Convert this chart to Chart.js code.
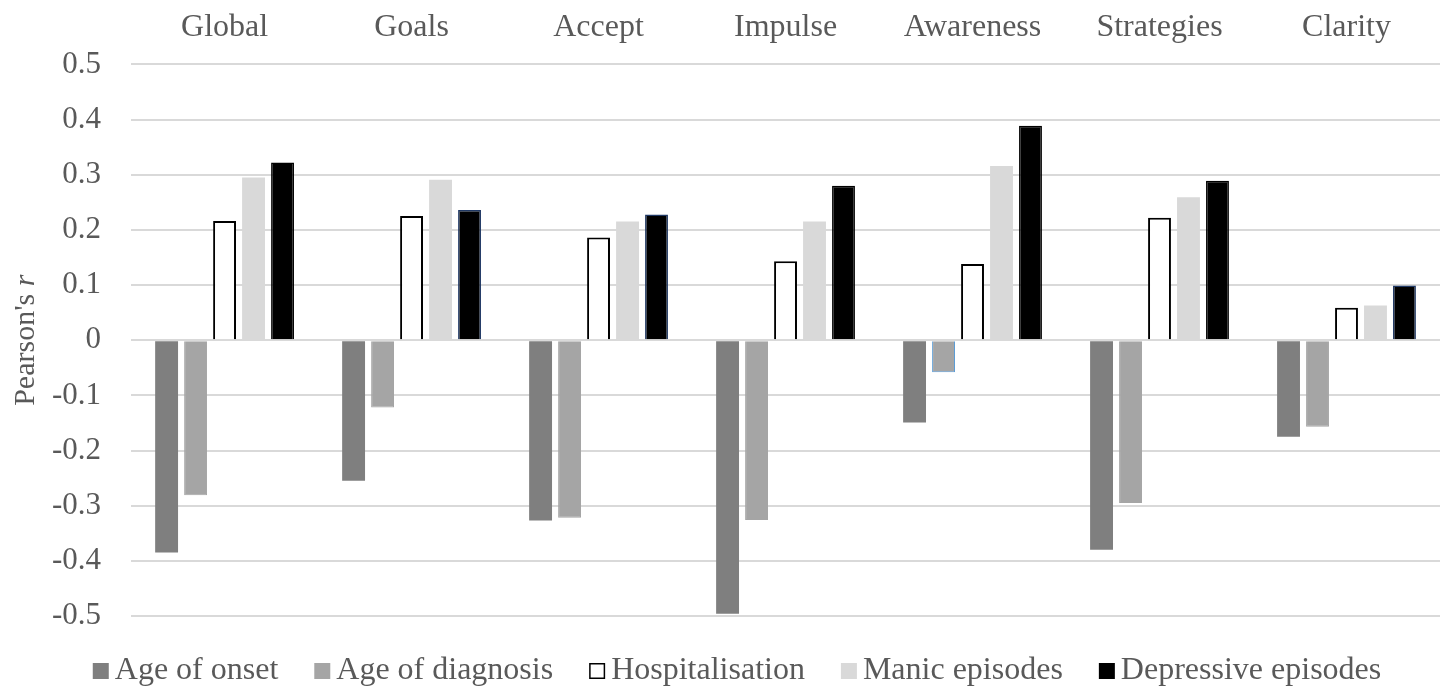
<!DOCTYPE html>
<html>
<head>
<meta charset="utf-8">
<script src="https://cdn.jsdelivr.net/npm/chart.js@4"></script>
<style>
  html, body { margin: 0; padding: 0; background: #fff; }
  #wrap { width: 1444px; height: 689px; position: relative; }
</style>
</head>
<body>
<div id="wrap"><canvas id="chart"></canvas></div>
<script>
// data
const categories = ['Global', 'Goals', 'Accept', 'Impulse', 'Awareness', 'Strategies', 'Clarity'];
const seriesNames = ['Age of onset', 'Age of diagnosis', 'Hospitalisation', 'Manic episodes', 'Depressive episodes'];
const ageOfOnset = [-0.385, -0.255, -0.327, -0.496, -0.149, -0.380, -0.175];
const ageOfDiagnosis = [-0.281, -0.122, -0.322, -0.326, -0.058, -0.295, -0.157];
const hospitalisation = [0.216, 0.225, 0.186, 0.143, 0.138, 0.222, 0.059];
const manicEpisodes = [0.295, 0.291, 0.215, 0.215, 0.316, 0.259, 0.063];
const depressiveEpisodes = [0.322, 0.236, 0.228, 0.280, 0.389, 0.289, 0.099];

const textColor = '#595959';
const fontFamily = '"Liberation Serif", "Times New Roman", serif';

// y axis title, the r is italic so draw it by hand
const axisTitle = {
    id: 'axisTitle',
    afterDraw(chart) {
        const ctx = chart.ctx;
        const cy = chart.scales.y.getPixelForValue(0);
        ctx.save();
        ctx.translate(26, cy);
        ctx.rotate(-Math.PI / 2);
        ctx.fillStyle = textColor;
        ctx.textBaseline = 'middle';
        ctx.textAlign = 'left';
        const normal = '30px ' + fontFamily;
        const italic = 'italic 30px ' + fontFamily;
        ctx.font = normal;
        const w1 = ctx.measureText("Pearson's ").width;
        ctx.font = italic;
        const w2 = ctx.measureText('r').width;
        const x = -(w1 + w2) / 2;
        ctx.font = normal;
        ctx.fillText("Pearson's ", x, 0);
        ctx.font = italic;
        ctx.fillText('r', x + w1, 0);
        ctx.restore();
    }
};

// legend drawn from the datasets, spacing is tighter than the built-in one
const bottomLegend = {
    id: 'bottomLegend',
    afterDraw(chart) {
        const ctx = chart.ctx;
        const sets = chart.data.datasets;
        const box = 16, gap = 6, itemGap = 36;
        ctx.save();
        ctx.font = '32px ' + fontFamily;
        ctx.textBaseline = 'middle';
        ctx.textAlign = 'left';
        const widths = sets.map(ds => ctx.measureText(ds.label).width);
        const total = widths.reduce((a, w) => a + box + gap + w, 0) + itemGap * (sets.length - 1);
        let x = 737 - total / 2;
        const y = 671;
        sets.forEach((ds, i) => {
            ctx.fillStyle = ds.backgroundColor;
            ctx.fillRect(x, y - box / 2, box, box);
            if (ds.label === 'Hospitalisation') {
                ctx.strokeStyle = '#000000';
                ctx.lineWidth = 1.5;
                ctx.strokeRect(x + 0.75, y - box / 2 + 0.75, box - 1.5, box - 1.5);
            }
            ctx.fillStyle = textColor;
            ctx.fillText(ds.label, x + box + gap, y);
            x += box + gap + widths[i] + itemGap;
        });
        ctx.restore();
    }
};

const blackBorders = depressiveEpisodes.map((v, i) => (i === 1 || i === 2 || i === 6) ? '#1f3864' : '#000000');
const diagBorders = ageOfDiagnosis.map((v, i) => i === 4 ? '#5b9bd5' : '#a5a5a5');

const ctx = document.getElementById('chart').getContext('2d');
new Chart(ctx, {
    type: 'bar',
    data: {
        labels: categories,
        datasets: [
            { label: seriesNames[0], data: ageOfOnset, backgroundColor: '#7f7f7f', borderColor: '#7f7f7f', borderWidth: 0 },
            { label: seriesNames[1], data: ageOfDiagnosis, backgroundColor: '#a5a5a5', borderColor: diagBorders, borderWidth: 1 },
            { label: seriesNames[2], data: hospitalisation, backgroundColor: '#ffffff', borderColor: '#000000', borderWidth: 2 },
            { label: seriesNames[3], data: manicEpisodes, backgroundColor: '#d9d9d9', borderColor: '#d9d9d9', borderWidth: 0 },
            { label: seriesNames[4], data: depressiveEpisodes, backgroundColor: '#000000', borderColor: blackBorders, borderWidth: 1.5 }
        ]
    },
    options: {
        responsive: true,
        maintainAspectRatio: false,
        animation: false,
        layout: { padding: { left: 22, right: 4, top: -10, bottom: 73 } },
        datasets: {
            bar: { categoryPercentage: 0.775, barPercentage: 0.79 }
        },
        scales: {
            x: {
                position: 'top',
                grid: { display: false, drawTicks: false },
                border: { display: false },
                ticks: {
                    color: textColor,
                    font: { family: fontFamily, size: 32 },
                    padding: 18
                }
            },
            y: {
                min: -0.5,
                max: 0.5,
                grid: { color: '#d9d9d9', lineWidth: 2, drawTicks: false },
                border: { display: false },
                ticks: {
                    stepSize: 0.1,
                    color: textColor,
                    font: { family: fontFamily, size: 31 },
                    padding: 30,
                    callback: v => {
                        const r = Math.round(v * 10) / 10;
                        return r === 0 ? '0' : r.toFixed(1);
                    }
                }
            }
        },
        plugins: {
            legend: { display: false },
            tooltip: { enabled: false }
        }
    },
    plugins: [axisTitle, bottomLegend]
});
</script>
</body>
</html>
